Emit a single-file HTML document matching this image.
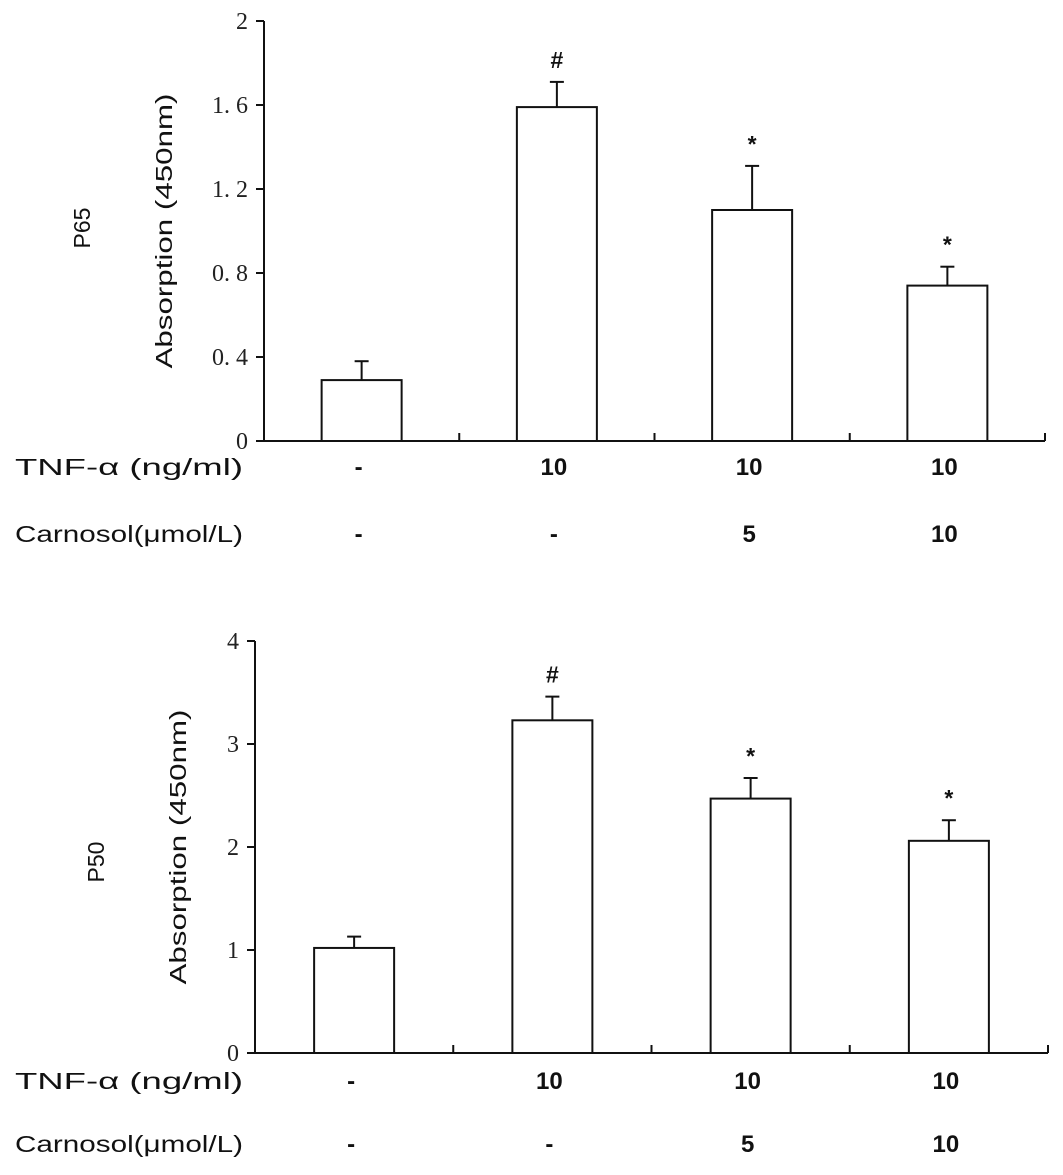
<!DOCTYPE html>
<html><head><meta charset="utf-8"><style>
html,body{margin:0;padding:0;background:#fff;}
svg{display:block;}
.tk{font-family:"Liberation Serif",serif;font-size:24px;fill:#222;}
.lab{font-family:"Liberation Sans",sans-serif;font-size:23px;fill:#111;}
.val{font-family:"Liberation Sans",sans-serif;font-size:24px;fill:#111;font-weight:bold;}
</style></head><body>
<svg id="fig" width="1063" height="1175" viewBox="0 0 1063 1175"></svg>
<script>
const categories = ["control","tnf","tnf-carnosol-5","tnf-carnosol-10"];
const tnfLabels = ["-","10","10","10"];
const carnosolLabels = ["-","-","5","10"];
const p65Values = [0.29,1.59,1.10,0.74];
const p65Errors = [0.09,0.12,0.21,0.09];
const p65Marks = ["","#","*","*"];
const p65Ticks = [0,0.4,0.8,1.2,1.6,2];
const p65TickLabels = ["0","0. 4","0. 8","1. 2","1. 6","2"];
const p50Values = [1.02,3.23,2.47,2.06];
const p50Errors = [0.11,0.23,0.20,0.20];
const p50Marks = ["","#","*","*"];
const p50Ticks = [0,1,2,3,4];
const p50TickLabels = ["0","1","2","3","4"];

const NS="http://www.w3.org/2000/svg";
const svg=document.getElementById('fig');
function mk(tag,attrs,parent,name){
  const e=document.createElementNS(NS,tag);
  for(const k in attrs)e.setAttribute(k,attrs[k]);
  
  
  (parent||svg).appendChild(e);return e;
}
function panel(cfg){
  const g=mk('g',{},svg,cfg.name);
  const yMax=cfg.ticks[cfg.ticks.length-1];
  const y=v=>cfg.y0-(v/yMax)*(cfg.y0-cfg.yTop);
  const band=(cfg.xEnd-cfg.x0)/categories.length;
  const xc=i=>cfg.x0+band*(i+0.5);
  const st={stroke:'#111','stroke-width':2,fill:'none'};
  mk('line',Object.assign({x1:cfg.x0,y1:cfg.y0,x2:cfg.x0,y2:cfg.yTop},st),g,'y-axis');
  mk('line',Object.assign({x1:cfg.x0-8,y1:cfg.y0,x2:cfg.xEnd,y2:cfg.y0},st),g,'x-axis');
  cfg.ticks.forEach((t,i)=>{
    mk('line',Object.assign({x1:cfg.x0-8,y1:y(t),x2:cfg.x0,y2:y(t)},st),g,'y-tick');
    const tx=mk('text',{x:cfg.x0-16,y:y(t)+8,'text-anchor':'end',class:'tk'},g,'y-tick-label');
    tx.textContent=cfg.tickLabels[i];
  });
  for(let i=1;i<=categories.length;i++){
    const x=cfg.x0+band*i;
    mk('line',Object.assign({x1:x,y1:cfg.y0,x2:x,y2:cfg.y0-8},st),g,'x-tick');
  }
  cfg.values.forEach((v,i)=>{
    const bw=80,x=xc(i);
    mk('rect',{x:x-bw/2,y:y(v),width:bw,height:cfg.y0-y(v),fill:'#fff',stroke:'#111','stroke-width':2},g,'bar-'+categories[i]);
    const et=y(v+cfg.errors[i]);
    mk('line',Object.assign({x1:x,y1:y(v),x2:x,y2:et},st),g,'error-bar');
    mk('line',Object.assign({x1:x-7,y1:et,x2:x+7,y2:et},st),g,'error-cap');
    if(cfg.marks[i]){
      const m=mk('text',{x:x,y:et-14,'text-anchor':'middle',class:'lab','font-size':'20','font-weight':'bold'},g,'significance-mark');
      m.textContent=cfg.marks[i];
    }
    const a=mk('text',{x:x-3,y:cfg.rowTnf,'text-anchor':'middle',class:'val'},g,'tnf-value');
    a.textContent=tnfLabels[i];
    const b=mk('text',{x:x-3,y:cfg.rowCar,'text-anchor':'middle',class:'val'},g,'carnosol-value');
    b.textContent=carnosolLabels[i];
  });
  const yt=mk('text',{x:0,y:0,'text-anchor':'middle',class:'lab','font-size':'24',textLength:'275',lengthAdjust:'spacingAndGlyphs',transform:`translate(${cfg.titleX},${(cfg.y0+cfg.yTop)/2}) rotate(-90)`},g,'y-axis-title');
  yt.textContent='Absorption (450nm)';
  const pt=mk('text',{x:0,y:0,'text-anchor':'middle',class:'lab','font-size':'26',transform:`translate(${cfg.pX},${cfg.pY}) rotate(-90)`},g,'panel-label');
  pt.textContent=cfg.pLabel;
  const r1=mk('text',{x:15,y:cfg.rowTnf,class:'lab',textLength:'228',lengthAdjust:'spacingAndGlyphs'},g,'tnf-row-label');
  r1.textContent='TNF-α (ng/ml)';
  const r2=mk('text',{x:15,y:cfg.rowCar,class:'lab',textLength:'228',lengthAdjust:'spacingAndGlyphs'},g,'carnosol-row-label');
  r2.textContent='Carnosol(μmol/L)';
}
panel({name:'p65-chart',x0:264,xEnd:1045,y0:441,yTop:21,ticks:p65Ticks,tickLabels:p65TickLabels,values:p65Values,errors:p65Errors,marks:p65Marks,rowTnf:475,rowCar:542,titleX:172,pX:90,pY:228,pLabel:'P65'});
panel({name:'p50-chart',x0:255,xEnd:1048,y0:1053,yTop:641,ticks:p50Ticks,tickLabels:p50TickLabels,values:p50Values,errors:p50Errors,marks:p50Marks,rowTnf:1089,rowCar:1152,titleX:186,pX:104,pY:862,pLabel:'P50'});
</script>
</body></html>
